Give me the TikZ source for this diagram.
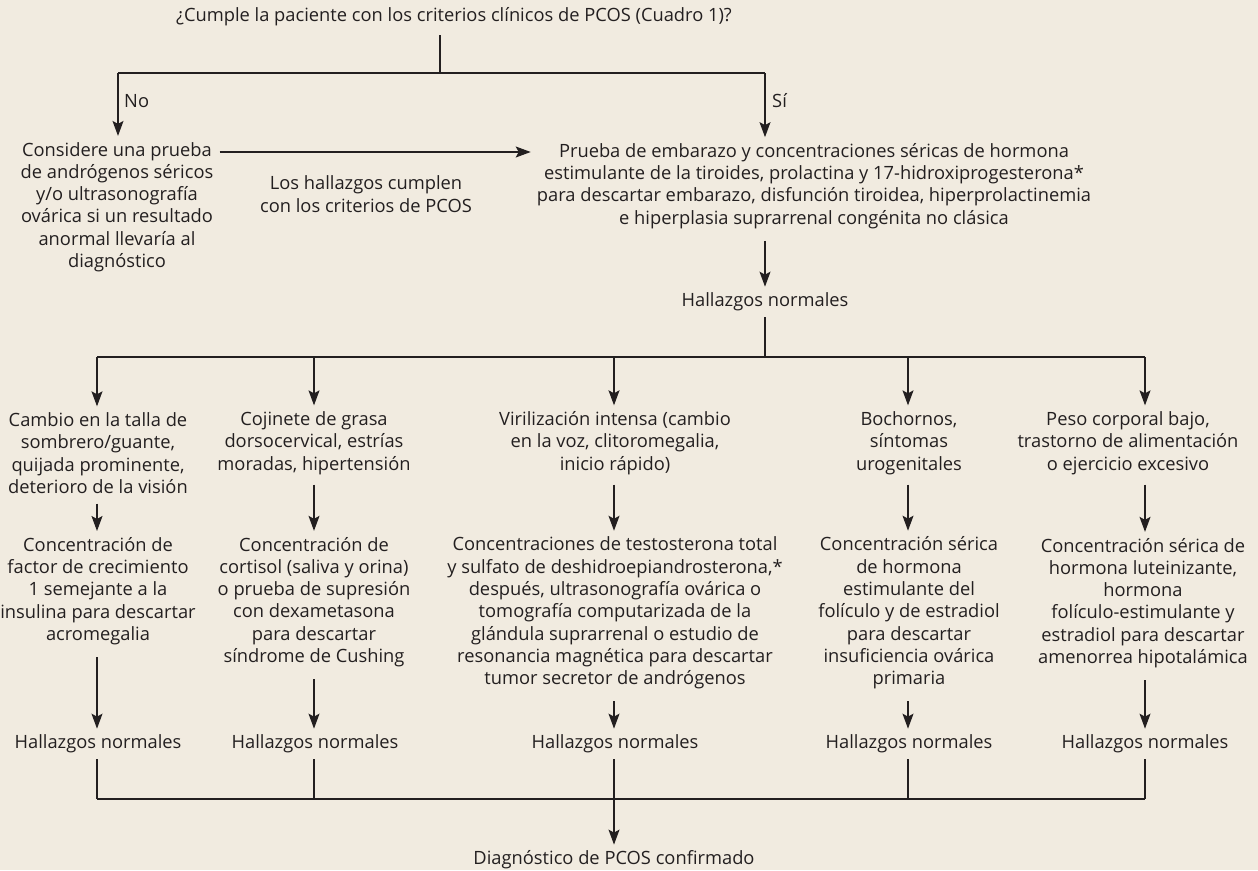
\documentclass[tikz,border=0pt]{standalone}
\usepackage{fontspec}
\setmainfont{Open Sans}
\usetikzlibrary{arrows.meta}
\definecolor{fondo}{HTML}{F1EBE0}
\definecolor{tinta}{HTML}{231F20}
\tikzset{
  texto/.style={align=center,text=tinta,font=\fontsize{18.3}{22.3}\selectfont,inner sep=6pt},
  etiqueta/.style={texto,inner sep=0pt,anchor=west},
  linea/.style={draw=tinta,line width=1.2pt},
  flecha/.style={linea,-{Stealth[length=15pt,width=11pt,inset=3pt]}}
}
\begin{document}
\begin{tikzpicture}[x=1pt,y=-1pt]
  \fill[fondo] (0,0) rectangle (1258,870);
  \useasboundingbox (0,0) rectangle (1258,870);

  % pregunta inicial
  \node[texto] (pregunta) at (454,17) {¿Cumple la paciente con los criterios clínicos de PCOS (Cuadro 1)?};
  \coordinate (r0) at (440,73);
  \coordinate (rno) at (118,73);
  \coordinate (rsi) at (765,73);
  \coordinate (hz) at (0,152);
  \node[etiqueta] (no) at (124,101) {No};
  \node[etiqueta] (si) at (772,101) {Sí};

  \node[texto] (considere) at (117,207) {Considere una prueba\\de andrógenos séricos\\y/o ultrasonografía\\ovárica si un resultado\\anormal llevaría al\\diagnóstico};
  \node[texto] (cumplen) at (366,194) {Los hallazgos cumplen\\con los criterios de PCOS};
  \node[texto] (prueba) at (814,186) {Prueba de embarazo y concentraciones séricas de hormona\\estimulante de la tiroides, prolactina y 17-hidroxiprogesterona*\\para descartar embarazo, disfunción tiroidea, hiperprolactinemia\\e hiperplasia suprarrenal congénita no clásica};
  \node[texto] (normal0) at (765,302) {Hallazgos normales};

  \draw[linea,shorten <=3pt] (pregunta.south -| r0) -- (r0);
  \draw[linea] (rno) -- (rsi);
  \draw[flecha] (rno) -- (rno |- considere.north);
  \draw[flecha] (rsi) -- (rsi |- prueba.north);
  \draw[flecha] (considere.east |- hz) -- (prueba.west |- hz);
  \draw[flecha,shorten <=6pt] (prueba.south -| normal0) -- (normal0);

  % sintomas
  \coordinate (r1) at (765,357);
  \coordinate (s1) at (97,357);
  \coordinate (s2) at (314,357);
  \coordinate (s3) at (614,357);
  \coordinate (s4) at (908,357);
  \coordinate (s5) at (1145,357);
  \node[texto] (sintoma1) at (98,453) {Cambio en la talla de\\sombrero/guante,\\quijada prominente,\\deterioro de la visión};
  \node[texto] (sintoma2) at (314,443) {Cojinete de grasa\\dorsocervical, estrías\\moradas, hipertensión};
  \node[texto] (sintoma3) at (615,443) {Virilización intensa (cambio\\en la voz, clitoromegalia,\\inicio rápido)};
  \node[texto] (sintoma4) at (909,443) {Bochornos,\\síntomas\\urogenitales};
  \node[texto] (sintoma5) at (1128,443) {Peso corporal bajo,\\trastorno de alimentación\\o ejercicio excesivo};

  \draw[linea] (normal0) -- (r1);
  \draw[linea] (s1) -- (s5);
  \foreach \i in {1,...,5}
    \draw[flecha] (s\i) -- (s\i |- sintoma\i.north);

  % estudios
  \node[texto] (estudio1) at (98,591) {Concentración de\\factor de crecimiento\\1 semejante a la\\insulina para descartar\\acromegalia};
  \node[texto] (estudio2) at (314,602) {Concentración de\\cortisol (saliva y orina)\\o prueba de supresión\\con dexametasona\\para descartar\\síndrome de Cushing};
  \node[texto] (estudio3) at (615,613) {Concentraciones de testosterona total\\y sulfato de deshidroepiandrosterona,*\\después, ultrasonografía ovárica o\\tomografía computarizada de la\\glándula suprarrenal o estudio de\\resonancia magnética para descartar\\tumor secretor de andrógenos};
  \node[texto] (estudio4) at (909,613) {Concentración sérica\\de hormona\\estimulante del\\folículo y de estradiol\\para descartar\\insuficiencia ovárica\\primaria};
  \node[texto] (estudio5) at (1143,603) {Concentración sérica de\\hormona luteinizante,\\hormona\\folículo-estimulante y\\estradiol para descartar\\amenorrea hipotalámica};

  \foreach \i in {1,...,5}
    \draw[flecha,shorten <=4pt] (sintoma\i.south -| s\i) -- (s\i |- estudio\i.north);

  % hallazgos y diagnostico
  \coordinate (b1) at (97,799);
  \coordinate (b5) at (1145,799);
  \foreach \i/\x in {1/98,2/315,3/615,4/909,5/1145}
    \node[texto] (normal\i) at (\x,744) {Hallazgos normales};
  \node[texto] (diagnostico) at (614,860) {Diagnóstico de PCOS confirmado};

  \foreach \i in {1,...,5} {
    \draw[flecha,shorten <=6pt] (estudio\i.south -| s\i) -- (s\i |- normal\i.north);
    \draw[linea] (normal\i.south -| s\i) -- (s\i |- b1);
  }
  \draw[linea] (b1) -- (b5);
  \draw[flecha] (normal3.south -| s3) -- (s3 |- diagnostico.north);
\end{tikzpicture}
\end{document}
